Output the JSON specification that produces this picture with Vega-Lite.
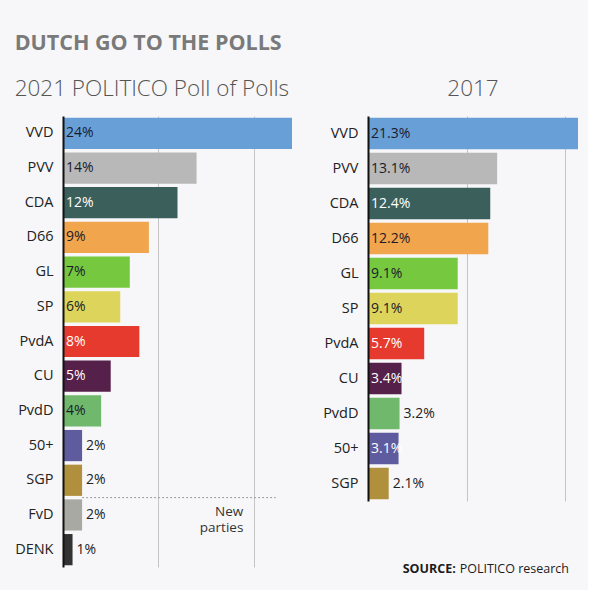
{
  "$schema": "https://vega.github.io/schema/vega-lite/v6.json",
  "background": "#f7f7f9",
  "padding": {"left": 14, "top": 33, "right": 10, "bottom": 20},
  "title": {"text": "DUTCH GO TO THE POLLS", "anchor": "start", "fontSize": 21.5, "fontWeight": "bold", "color": "#7a7a7a", "font": "Open Sans", "offset": 23},
  "config": {"view": {"stroke": null}, "font": "Open Sans"},
  "datasets": {
    "polls": [
      {"year": 2021, "party": "VVD", "value": 24, "label": "24%"},
      {"year": 2021, "party": "PVV", "value": 14, "label": "14%"},
      {"year": 2021, "party": "CDA", "value": 12, "label": "12%"},
      {"year": 2021, "party": "D66", "value": 9, "label": "9%"},
      {"year": 2021, "party": "GL", "value": 7, "label": "7%"},
      {"year": 2021, "party": "SP", "value": 6, "label": "6%"},
      {"year": 2021, "party": "PvdA", "value": 8, "label": "8%"},
      {"year": 2021, "party": "CU", "value": 5, "label": "5%"},
      {"year": 2021, "party": "PvdD", "value": 4, "label": "4%"},
      {"year": 2021, "party": "50+", "value": 2, "label": "2%"},
      {"year": 2021, "party": "SGP", "value": 2, "label": "2%"},
      {"year": 2021, "party": "FvD", "value": 2, "label": "2%"},
      {"year": 2021, "party": "DENK", "value": 1, "label": "1%"},
      {"year": 2017, "party": "VVD", "value": 21.3, "label": "21.3%"},
      {"year": 2017, "party": "PVV", "value": 13.1, "label": "13.1%"},
      {"year": 2017, "party": "CDA", "value": 12.4, "label": "12.4%"},
      {"year": 2017, "party": "D66", "value": 12.2, "label": "12.2%"},
      {"year": 2017, "party": "GL", "value": 9.1, "label": "9.1%"},
      {"year": 2017, "party": "SP", "value": 9.1, "label": "9.1%"},
      {"year": 2017, "party": "PvdA", "value": 5.7, "label": "5.7%"},
      {"year": 2017, "party": "CU", "value": 3.4, "label": "3.4%"},
      {"year": 2017, "party": "PvdD", "value": 3.2, "label": "3.2%"},
      {"year": 2017, "party": "50+", "value": 3.1, "label": "3.1%"},
      {"year": 2017, "party": "SGP", "value": 2.1, "label": "2.1%"}
    ]
  },
  "spacing": 30,
  "hconcat": [
    {
      "width": 229,
      "height": 451,
      "title": {"text": "2021 POLITICO Poll of Polls", "anchor": "start", "frame": "bounds", "fontSize": 22.5, "fontWeight": 300, "color": "#555555", "offset": 16},
      "data": {"name": "polls"},
      "transform": [{"filter": "datum.year == 2021"}],
      "encoding": {
        "y": {"field": "party", "type": "nominal", "sort": null,
          "scale": {"paddingInner": 0.1, "paddingOuter": 0.05},
          "axis": {"title": null, "domainColor": "#111111", "domainWidth": 2, "ticks": false, "labelFontSize": 14.5, "labelColor": "#222222", "labelPadding": 10, "zindex": 1}}
      },
      "layer": [
        {
          "mark": {"type": "bar"},
          "encoding": {
            "x": {"field": "value", "type": "quantitative", "scale": {"domain": [0, 24], "nice": false},
              "axis": {"title": null, "labels": false, "ticks": false, "domain": false, "grid": true, "values": [10, 20], "gridColor": "#c4c4c4", "gridWidth": 1}},
            "color": {"field": "party", "type": "nominal", "legend": null,
              "scale": {"domain": ["VVD", "PVV", "CDA", "D66", "GL", "SP", "PvdA", "CU", "PvdD", "50+", "SGP", "FvD", "DENK"],
                "range": ["#689fd6", "#b8b8b8", "#3b605b", "#f1a54c", "#76c83f", "#ddd45b", "#e63a2e", "#55204a", "#70b86c", "#5e5b9f", "#b0903c", "#a9a9a4", "#333333"]}}
          }
        },
        {
          "transform": [{"filter": "datum.value > 2"}],
          "mark": {"type": "text", "align": "left", "dx": 3, "fontSize": 14},
          "encoding": {
            "x": {"datum": 0},
            "text": {"field": "label"},
            "color": {"condition": {"test": "indexof(['CDA','PvdA','CU','50+'], datum.party) >= 0", "value": "#ffffff"}, "value": "#1b1b2b"}
          }
        },
        {
          "transform": [{"filter": "datum.value <= 2"}],
          "mark": {"type": "text", "align": "left", "dx": 4, "fontSize": 14, "color": "#222222"},
          "encoding": {
            "x": {"field": "value", "type": "quantitative"},
            "text": {"field": "label"}
          }
        },
        {
          "transform": [{"filter": "datum.party == 'FvD'"}],
          "mark": {"type": "rule", "strokeDash": [2, 2], "color": "#999999", "strokeWidth": 1, "yOffset": -1.7},
          "encoding": {
            "y": {"field": "party", "type": "nominal", "sort": null, "bandPosition": 0},
            "x": {"datum": 2},
            "x2": {"datum": 22.3}
          }
        },
        {
          "transform": [{"filter": "datum.party == 'FvD'"}],
          "mark": {"type": "text", "text": ["New", "parties"], "align": "right", "baseline": "middle", "dy": -3, "fontSize": 13.5, "lineHeight": 16.5, "color": "#333333"},
          "encoding": {
            "y": {"field": "party", "type": "nominal", "sort": null},
            "x": {"datum": 18.9}
          }
        }
      ]
    },
    {
      "width": 210,
      "height": 385,
      "title": {"text": "2017", "anchor": "middle", "frame": "group", "fontSize": 22.5, "fontWeight": 300, "color": "#555555", "offset": 16},
      "data": {"name": "polls"},
      "transform": [{"filter": "datum.year == 2017"}],
      "encoding": {
        "y": {"field": "party", "type": "nominal", "sort": null,
          "scale": {"paddingInner": 0.1, "paddingOuter": 0.05},
          "axis": {"title": null, "domainColor": "#111111", "domainWidth": 2, "ticks": false, "labelFontSize": 14.5, "labelColor": "#222222", "labelPadding": 10, "zindex": 1}}
      },
      "layer": [
        {
          "mark": {"type": "bar"},
          "encoding": {
            "x": {"field": "value", "type": "quantitative", "scale": {"domain": [0, 21.3], "nice": false},
              "axis": {"title": null, "labels": false, "ticks": false, "domain": false, "grid": true, "values": [10, 20], "gridColor": "#c4c4c4", "gridWidth": 1}},
            "color": {"field": "party", "type": "nominal", "legend": null,
              "scale": {"domain": ["VVD", "PVV", "CDA", "D66", "GL", "SP", "PvdA", "CU", "PvdD", "50+", "SGP", "FvD", "DENK"],
                "range": ["#689fd6", "#b8b8b8", "#3b605b", "#f1a54c", "#76c83f", "#ddd45b", "#e63a2e", "#55204a", "#70b86c", "#5e5b9f", "#b0903c", "#a9a9a4", "#333333"]}}
          }
        },
        {
          "transform": [{"filter": "indexof(['PvdD','SGP'], datum.party) < 0"}],
          "mark": {"type": "text", "align": "left", "dx": 3, "fontSize": 14},
          "encoding": {
            "x": {"datum": 0},
            "text": {"field": "label"},
            "color": {"condition": {"test": "indexof(['CDA','PvdA','CU','50+'], datum.party) >= 0", "value": "#ffffff"}, "value": "#1b1b2b"}
          }
        },
        {
          "transform": [{"filter": "indexof(['PvdD','SGP'], datum.party) >= 0"}],
          "mark": {"type": "text", "align": "left", "dx": 4, "fontSize": 14, "color": "#222222"},
          "encoding": {
            "x": {"field": "value", "type": "quantitative"},
            "text": {"field": "label"}
          }
        },
        {
          "transform": [{"filter": "datum.party == 'SGP'"}],
          "mark": {"type": "text", "text": "SOURCE:", "align": "right", "baseline": "middle", "dx": -2, "dy": 85, "fontSize": 12.5, "fontWeight": "bold", "color": "#1b1b1b"},
          "encoding": {
            "y": {"field": "party", "type": "nominal", "sort": null},
            "x": {"datum": 9.1}
          }
        },
        {
          "transform": [{"filter": "datum.party == 'SGP'"}],
          "mark": {"type": "text", "text": "POLITICO research", "align": "left", "baseline": "middle", "dx": 2, "dy": 85, "fontSize": 12.5, "color": "#1b1b1b"},
          "encoding": {
            "y": {"field": "party", "type": "nominal", "sort": null},
            "x": {"datum": 9.1}
          }
        }
      ]
    }
  ]
}
